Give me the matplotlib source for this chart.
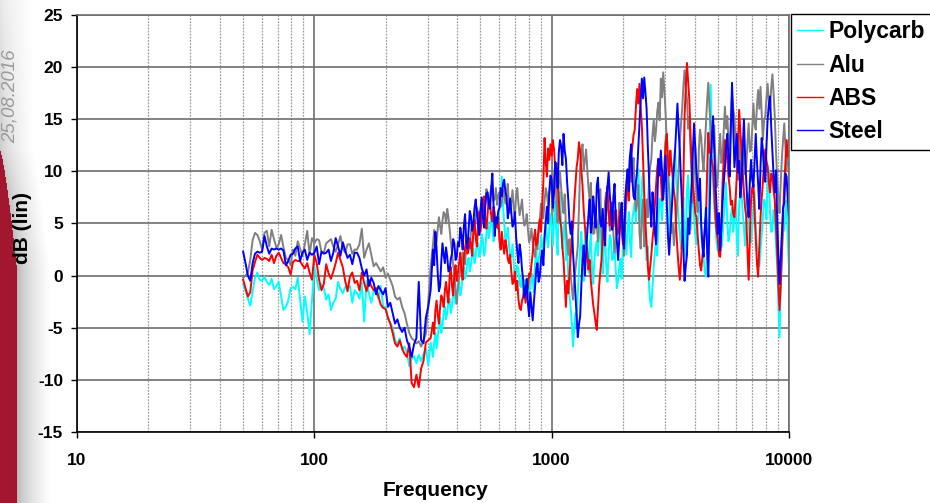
import numpy as np
import matplotlib
matplotlib.use("Agg")
import matplotlib.pyplot as plt
from matplotlib.ticker import LogLocator, NullFormatter

plt.rcParams['font.family'] = ['Liberation Sans', 'DejaVu Sans']

# ---------------- data ----------------
series_names = ["Polycarb", "Alu", "ABS", "Steel"]
series_colors = ["#00FFFF", "#808080", "#FF0000", "#0000FF"]
x_ticks = [10, 100, 1000, 10000]
x_tick_labels = ["10", "100", "1000", "10000"]
y_ticks = [-15, -10, -5, 0, 5, 10, 15, 20, 25]
# spectral lines: 50 Hz .. 309 Hz every 0.01 decade (80 lines),
# then 316 Hz .. 10 kHz every 0.005 decade (301 lines)
low_start, low_step, low_count = 1.70, 0.01, 80
high_start, high_step, high_count = 2.50, 0.005, 301

polycarb = [
    -0.8, -1.5, -2.2, -2.9, -1.5, -0.2, 0.3, -0.4, -0.5, -0.1,
    -0.6, -0.9, -0.3, -1.3, -1.0, -0.6, -2.0, -3.3, -3.0, -2.4,
    -1.2, -1.1, -1.3, -0.2, -2.3, -4.4, -2.0, -3.5, -5.6, -2.4,
    0.9, -0.3, -1.4, -0.8, -1.2, -2.3, -1.8, -3.3, -2.6, -2.2,
    -0.6, -1.3, -1.7, -1.1, -1.2, -1.0, -2.6, -1.4, -1.7, -2.2,
    -0.7, -4.4, -0.5, -1.7, -2.6, -1.4, -1.6, -2.2, -1.0, -3.0,
    -3.0, -4.2, -4.5, -5.0, -6.2, -6.6, -6.0, -7.1, -6.8, -7.4,
    -8.7, -8.0, -7.7, -8.4, -7.6, -8.2, -7.5, -7.0, -8.6, -6.4,
    # 316 Hz and up
    -7.8, -6.4, -5.5, -7.0, -6.0, -4.6, -4.0, -5.5, -4.8, -3.5,
    -3.0, -4.2, -3.6, -2.5, -2.2, -3.6, -2.9, -1.8, -1.5, -2.7,
    -2.0, -0.9, -0.6, -1.9, -1.3, 0.1, 0.9, -0.3, 0.2, 1.4,
    1.7, 0.4, 1.0, 2.2, 2.6, 1.2, 1.9, 3.3, 3.1, 1.8,
    2.2, 4.0, 3.4, 1.9, 2.4, 4.1, 5.3, 3.6, 4.4, 5.6,
    4.9, 3.3, 4.0, 5.2, 5.7, 4.4, 6.6, 7.5, 9.5, 6.8,
    5.0, 3.2, 3.7, 4.6, 3.0, 1.9, 1.8, 3.0, 1.2, -0.3,
    -0.1, 1.0, 0.6, -0.8, -1.1, 0.1, -1.4, -2.3, -0.4, -1.5,
    -2.0, -0.8, -1.3, 0.2, -0.4, -1.6, 1.2, 2.3, 0.5, 1.5,
    2.2, 3.8, 3.0, 1.9, 4.2, 5.4, 3.6, 2.7, 4.5, 5.9,
    # 1 kHz and up
    4.8, 2.9, 5.4, 7.1, 3.9, 2.0, 6.6, 8.0, 5.0, 2.6,
    4.1, 5.2, 1.5, 3.0, -0.1, -1.9, -3.0, -4.6, -6.8, -5.0,
    -3.6, -4.9, -1.7, 0.4, 2.8, 4.2, 1.2, -0.5, 3.4, 4.6,
    1.9, 0.3, 2.8, 4.0, 0.6, -0.8, 1.5, 2.7, 3.3, 1.9,
    4.1, 5.3, 1.8, 0.2, 2.8, 4.1, 0.9, -0.6, 2.2, 3.9,
    3.4, 1.5, 1.7, 3.0, 0.5, -1.2, -0.4, 0.8, 1.6, -0.3,
    2.8, 4.5, 3.9, 2.0, 4.7, 6.1, 3.2, 1.8, 5.4, 6.3,
    7.0, 5.1, 8.6, 10.2, 6.9, 5.0, 8.9, 9.8, 6.5, 3.9,
    1.5, 2.8, -1.0, -2.4, -3.0, -1.0, 0.9, 2.3, 3.5, 1.9,
    5.6, 7.4, 7.2, 5.3, 7.9, 10.0, 13.4, 9.1, 5.6, 3.8,
    6.3, 8.0, 9.5, 11.0, 12.1, 9.0, 7.0, 5.2, 4.0, 2.6,
    6.0, 7.5, 3.2, 1.8, 8.2, 9.6, 6.1, 4.4, 7.0, 8.5,
    5.6, 3.9, 3.0, 4.8, 6.4, 7.7, 4.0, 2.5, 1.8, 0.4,
    -0.1, 2.0, 4.5, 11.0, 18.3, 12.5, 8.8, 6.6, 5.0, 3.1,
    2.4, 4.0, 5.5, 2.7, 3.8, 5.5, 7.2, 8.9, 5.1, 3.3,
    4.0, 5.8, 6.5, 4.2, 5.6, 7.4, 3.6, 1.9, 6.8, 8.1,
    7.9, 6.0, 4.6, 2.9, 6.2, 7.9, 5.0, 3.4, 3.2, 4.6,
    6.3, 8.0, 4.5, 2.8, 2.6, 0.9, 2.4, 4.0, 5.7, 7.3,
    7.0, 5.4, 8.8, 10.1, 6.0, 4.2, 4.3, 6.3, 5.6, 3.0,
    1.0, -2.5, -5.9, -1.5, 2.4, 4.1, 4.5, 6.0, 7.2, 3.4,
    0.8,
]

alu = [
    -0.2, 0.0, 0.3, 1.5, 3.4, 4.1, 3.9, 3.3, 2.5, 4.1,
    4.3, 2.8, 4.4, 3.5, 2.7, 3.0, 3.9, 2.7, 1.7, 1.5,
    1.0, 2.5, 1.9, 3.3, 2.6, 1.9, 3.0, 4.3, 2.0, 3.6,
    3.1, 3.5, 3.4, 2.3, 2.2, 3.1, 3.3, 3.5, 2.8, 2.3,
    3.0, 3.8, 2.6, 2.2, 3.0, 3.0, 2.1, 2.5, 2.5, 3.0,
    4.5, 1.7, 2.5, 3.1, 2.0, 0.9, 1.2, 0.8, 0.4, 0.8,
    -0.2, 0.2, -0.4, -1.0, -2.0, -2.3, -2.1, -3.0, -3.6, -4.6,
    -5.5, -6.0, -6.2, -6.5, -6.3, -6.8, -6.2, -5.6, -2.5, 0.8,
    # 316 Hz and up
    3.0, 4.4, 3.8, 3.2, 4.5, 5.6, 4.7, 4.0, 5.3, 6.1,
    5.9, 5.0, 6.4, 5.6, 4.5, 3.3, 2.2, 1.0, 0.3, -1.4,
    -2.7, -1.2, -0.2, 0.6, 1.0, 2.2, 1.9, 1.1, 2.8, 3.6,
    3.4, 2.6, 4.2, 5.1, 4.8, 4.0, 5.6, 6.5, 6.1, 5.0,
    5.6, 6.6, 7.3, 6.1, 6.8, 8.3, 7.8, 6.6, 7.4, 8.6,
    8.3, 7.2, 7.3, 8.4, 6.8, 7.7, 8.0, 6.6, 7.0, 8.2,
    7.8, 6.9, 8.0, 8.8, 6.9, 6.0, 7.1, 8.2, 6.5, 5.6,
    7.7, 8.4, 6.9, 5.8, 6.5, 7.3, 5.7, 4.8, 5.0, 5.9,
    4.4, 3.2, 3.6, 4.5, 3.2, 2.4, 1.8, 3.0, 2.5, 4.0,
    5.6, 6.9, 6.6, 5.5, 7.2, 8.4, 7.8, 6.7, 8.0, 9.1,
    # 1 kHz and up
    8.3, 6.2, 9.5, 10.8, 7.0, 5.1, 8.8, 10.0, 8.5, 6.9,
    6.0, 7.8, 4.7, 3.1, 2.0, 3.5, 0.0, -1.2, -2.3, -0.6,
    0.5, 1.6, 2.8, 6.4, 10.5, 11.8, 12.6, 10.1, 11.0, 12.1,
    10.2, 8.4, 7.3, 8.9, 5.8, 4.0, 4.1, 6.2, 5.0, 3.3,
    6.7, 8.3, 4.2, 2.9, 5.4, 7.1, 8.0, 6.5, 6.1, 4.3,
    5.4, 7.0, 4.0, 2.2, 3.4, 5.1, 5.2, 7.0, 6.0, 4.4,
    3.4, 1.9, 5.0, 7.2, 8.6, 10.1, 11.5, 9.0, 9.9, 11.3,
    8.0, 6.2, 7.0, 8.7, 4.1, 2.6, 5.5, 7.3, 2.8, 4.9,
    7.3, 5.6, 9.0, 10.4, 11.2, 13.5, 15.0, 12.9, 14.0, 15.8,
    16.6, 14.9, 18.9, 17.1, 19.5, 17.7, 15.6, 12.8, 10.5, 8.1,
    6.3, 4.1, 5.0, 2.9, 4.4, 5.9, 7.3, 10.2, 12.8, 14.6,
    16.0, 18.2, 19.7, 18.0, 17.0, 14.1, 15.2, 12.0, 9.4, 7.0,
    10.4, 12.3, 8.0, 6.1, 12.0, 14.0, 13.3, 11.2, 10.0, 12.4,
    14.5, 16.8, 18.5, 16.0, 14.3, 11.8, 12.7, 14.4, 11.0, 8.5,
    9.5, 11.9, 13.6, 10.8, 11.5, 14.0, 16.2, 14.1, 15.3, 13.0,
    12.0, 14.9, 17.5, 16.0, 15.3, 12.9, 11.0, 9.2, 13.4, 11.1,
    9.0, 10.8, 12.1, 9.7, 10.5, 12.8, 14.6, 11.9, 12.0, 14.1,
    16.5, 14.5, 14.0, 16.3, 17.8, 16.0, 18.1, 15.6, 13.0, 14.9,
    15.3, 17.0, 18.4, 16.6, 16.0, 18.0, 19.3, 17.5, 15.3, 12.0,
    9.4, 7.5, 6.0, 8.8, 11.3, 13.0, 14.6, 12.3, 10.0, 12.0,
    13.4,
]

abs_ = [
    -0.4, -1.2, -2.0, -1.6, 0.5, 1.3, 2.0, 1.7, 1.5, 1.7,
    1.6, 1.4, 2.0, 1.2, 1.9, 2.2, 1.7, 1.2, 1.1, 0.8,
    0.1, 1.3, 1.5, 1.4, 1.4, 1.0, 0.7, 1.2, 0.3, -0.4,
    2.0, 1.2, -0.4, -1.4, -0.8, 1.1, 0.2, -0.3, 0.4, 1.2,
    2.2, 1.5, 0.8, -0.5, -1.5, -0.1, 0.3, -0.7, -0.5, -1.4,
    0.3, -0.7, -1.5, -0.4, -1.0, -1.4, -1.2, -2.0, -2.8, -3.1,
    -3.2, -4.0, -4.6, -5.5, -6.5, -6.8, -6.2, -7.0, -7.5, -7.8,
    -6.5, -10.3, -10.7, -9.5, -10.7, -8.9, -8.2, -6.4, -6.2, -6.0,
    # 316 Hz and up
    -4.5, -5.6, -3.3, -2.4, -3.8, -4.6, -3.0, -1.9, -2.2, -3.0,
    -1.4, -0.6, -1.8, -2.6, -0.1, 0.8, -1.0, -1.9, 0.2, 1.0,
    -0.5, 0.3, 1.2, 2.2, 0.4, -0.4, 1.8, 2.7, 3.4, 2.1,
    2.5, 3.6, 3.0, 1.9, 4.4, 5.3, 3.6, 2.8, 5.0, 6.1,
    4.2, 5.4, 6.6, 7.6, 5.4, 4.5, 6.0, 7.4, 7.0, 5.8,
    5.2, 6.6, 6.0, 4.9, 4.6, 5.6, 3.4, 2.5, 4.2, 3.0,
    2.1, 3.4, 2.8, 1.6, 1.2, 2.0, 0.4, -0.8, -0.6, 0.4,
    -1.4, -0.5, -2.3, -3.1, -3.3, -2.4, -2.0, -1.0, -2.6, -1.5,
    -1.2, 0.2, -0.1, 1.1, 2.1, 3.5, 4.4, 2.9, 3.2, 4.6,
    5.4, 4.2, 6.6, 9.0, 13.2, 10.9, 9.5, 12.2, 11.1, 12.6,
    # 1 kHz and up
    11.5, 13.0, 12.1, 10.2, 10.8, 8.9, 7.3, 5.4, 4.7, 2.8,
    1.5, -0.8, -3.0, -0.5, -1.7, 0.2, 1.8, 3.6, 4.7, 6.9,
    8.6, 10.4, 11.2, 12.8, 12.0, 10.1, 8.6, 6.3, 4.7, 3.2,
    2.5, 0.6, 1.5, -0.5, -1.7, -2.8, -3.6, -4.5, -5.2, -3.2,
    -1.0, 0.4, 1.5, 3.6, 5.4, 4.0, 7.3, 8.6, 6.0, 4.8,
    7.0, 5.5, 4.7, 6.0, 6.3, 3.9, 4.1, 5.6, 6.3, 4.6,
    3.0, 4.9, 6.3, 8.0, 8.6, 7.2, 10.2, 11.6, 12.4, 13.5,
    14.0, 16.2, 17.9, 16.5, 18.4, 16.0, 14.4, 11.0, 7.9, 5.0,
    3.1, 1.0, -0.4, 0.8, 2.0, 3.5, 4.7, 6.9, 8.6, 10.4,
    11.2, 9.8, 9.5, 7.2, 8.0, 10.3, 12.7, 13.6, 11.2, 9.6,
    12.0, 10.6, 9.5, 8.1, 7.2, 4.5, 2.4, 0.8, -0.4, 1.3,
    3.7, 9.0, 15.3, 18.0, 20.4, 18.6, 16.9, 13.5, 10.4, 8.7,
    7.5, 6.0, 5.6, 3.9, 2.4, 1.0, 0.5, 1.8, 3.0, 4.4,
    5.6, 9.5, 13.7, 11.8, 12.0, 11.0, 10.4, 7.9, 5.6, 4.2,
    3.5, 2.0, 1.8, 5.0, 8.8, 11.2, 13.0, 12.2, 11.1, 9.5,
    8.5, 6.8, 7.2, 5.9, 5.6, 7.4, 9.5, 12.6, 15.9, 13.8,
    12.1, 10.0, 8.0, 6.5, 5.6, 2.4, -0.4, 3.5, 7.2, 8.4,
    8.8, 6.1, 3.5, 1.2, -0.1, 2.8, 5.6, 7.4, 9.0, 10.8,
    12.1, 11.0, 10.5, 9.0, 8.0, 9.8, 9.5, 8.2, 7.2, 4.8,
    2.4, -0.8, -3.3, -1.0, 2.0, 5.6, 8.8, 11.0, 13.0, 11.4,
    12.1,
]

steel = [
    2.3, 1.2, 0.0, -0.5, 1.2, 2.1, 2.3, 2.2, 2.3, 3.8,
    2.8, 2.1, 2.6, 2.5, 2.6, 2.5, 2.6, 2.4, 1.0, 1.4,
    2.0, 2.1, 2.6, 2.8, 1.4, 2.2, 2.5, 1.5, 2.2, 2.0,
    2.2, 2.8, 1.1, 2.3, 2.1, 2.2, 2.5, 1.4, 2.2, 3.6,
    2.8, 1.9, 3.2, 2.4, 1.7, 2.0, 1.1, 2.2, 2.2, 1.7,
    0.7, 0.0, 0.6, -1.0, -0.2, -0.7, -1.8, -1.0, -1.4, -1.8,
    -1.2, -3.0, -2.6, -3.6, -4.6, -4.2, -5.0, -5.4, -5.0, -6.2,
    -6.8, -7.8, -6.6, -6.0, -0.6, -6.2, -6.5, -4.0, -3.0, -1.4,
    # 316 Hz and up
    2.5, 1.0, 4.2, 2.6, 0.2, -1.5, -1.0, 1.4, 3.1, 2.0,
    1.2, 2.7, 1.8, 0.4, 0.5, 1.6, 2.1, 3.5, 3.1, 1.5,
    1.8, 3.2, 2.8, 4.6, 3.8, 2.5, 4.7, 5.9, 3.4, 2.6,
    4.4, 6.2, 5.7, 4.3, 5.0, 6.5, 7.3, 6.0, 5.0, 3.9,
    6.3, 7.5, 5.7, 4.6, 6.6, 7.9, 8.0, 6.9, 6.4, 8.2,
    9.8, 6.7, 3.8, 5.6, 5.0, 6.2, 6.5, 8.4, 7.6, 8.8,
    9.2, 8.0, 7.6, 5.5, 6.3, 7.4, 6.0, 4.7, 5.0, 6.1,
    3.8, 2.3, 1.2, 3.0, 2.2, 0.6, -0.4, -2.1, -1.5, -0.3,
    -2.7, -3.9, -1.6, -3.0, -4.3, -2.6, -1.1, 0.6, 1.2, -0.6,
    -0.1, 1.6, 2.4, 1.0, 3.6, 5.2, 6.6, 5.0, 8.0, 9.6,
    # 1 kHz and up
    9.2, 6.5, 8.0, 10.9, 10.2, 8.4, 11.8, 13.0, 12.4, 10.6,
    13.6, 12.0, 11.2, 9.0, 7.3, 5.1, 4.0, 5.2, 2.2, 0.3,
    -1.7, -3.8, -5.9, -4.7, -3.9, -1.0, 1.5, 2.9, 0.0, 2.2,
    4.1, 5.8, 7.3, 4.1, 5.0, 7.6, 6.3, 4.6, 8.6, 9.4,
    6.7, 5.0, 4.7, 6.4, 4.0, 2.9, 7.0, 8.5, 9.9, 7.7,
    6.3, 4.4, 7.5, 8.8, 5.4, 3.2, 1.5, 3.5, 5.6, 7.0,
    4.0, 2.6, 7.5, 9.0, 10.2, 8.1, 11.5, 12.6, 9.2, 7.6,
    7.3, 9.0, 10.0, 12.3, 14.4, 16.8, 18.9, 17.0, 19.0, 17.6,
    16.0, 12.5, 9.5, 6.6, 4.7, 8.0, 6.3, 4.1, 3.0, 7.2,
    11.2, 9.6, 12.0, 10.0, 7.3, 9.4, 11.5, 7.0, 3.8, 2.0,
    4.0, 6.1, 8.0, 10.3, 12.0, 14.2, 16.5, 14.0, 12.0, 9.1,
    6.2, 2.5, -0.5, 0.9, 2.0, 5.5, 4.0, 6.6, 8.8, 11.9,
    14.6, 12.2, 10.0, 8.4, 7.2, 9.3, 5.0, 3.0, 1.8, 4.4,
    6.5, 2.5, -0.1, 5.6, 11.1, 13.2, 15.3, 12.1, 9.0, 6.4,
    4.0, 6.0, 2.4, 4.5, 7.0, 8.9, 10.4, 12.4, 13.6, 11.2,
    9.5, 14.0, 18.5, 14.6, 10.4, 12.0, 13.6, 9.9, 11.0, 7.5,
    8.8, 12.2, 15.0, 11.5, 9.0, 6.8, 5.6, 8.9, 11.1, 9.2,
    8.5, 11.0, 13.6, 10.9, 8.8, 6.4, 10.5, 13.2, 12.0, 9.8,
    9.0, 12.4, 15.0, 16.4, 17.2, 14.3, 12.0, 9.6, 8.0, 10.1,
    5.6, 2.0, -0.8, 1.7, 4.0, 6.5, 7.0, 9.8, 9.5, 7.2,
    5.6,
]

series_values = [polycarb, alu, abs_, steel]
freq = np.concatenate([
    10 ** (low_start + low_step * np.arange(low_count)),
    10 ** (high_start + high_step * np.arange(high_count)),
])

# ---------------- figure ----------------
W_PX, H_PX = 930, 503
fig = plt.figure(figsize=(W_PX / 100, H_PX / 100), dpi=100)

# left decorative strip (red band + gray shading)
sw = 60
deco = fig.add_axes([0, 0, sw / W_PX, 1])
xs = np.arange(sw)[None, :] + 0.5
ys = np.arange(H_PX)[:, None] + 0.5
edge = 17.0 * np.clip((ys - 150.0) / 120.0, 0, 1) ** 0.75
shade = np.clip((xs - edge) / 33.0, 0, 1)
base = 0.70 + 0.20 * np.clip((260.0 - ys) / 260.0, 0, 1)
g = base + (1 - base) * shade ** 0.6
img = np.dstack([g, g, g]) * np.ones((H_PX, sw, 1))
red_mask = (xs < edge) & (ys > 150)
red = np.array([0.64, 0.09, 0.19])
img = np.where(red_mask[..., None], red[None, None, :], img)
deco.imshow(img, extent=[0, sw, H_PX, 0], aspect='auto', interpolation='bilinear')
deco.set_xlim(0, sw)
deco.set_ylim(H_PX, 0)
deco.axis('off')

fig.text(10 / W_PX, 1 - 96 / H_PX, "25,08.2016", rotation=90, color="#9a9a9a",
         style="italic", fontsize=13.5, ha="center", va="center")

# main axes
L, R, T, B = 77, 789, 15, 432
ax = fig.add_axes([L / W_PX, 1 - B / H_PX, (R - L) / W_PX, (B - T) / H_PX])
ax.set_xscale('log')
for name, vals, col in zip(series_names, series_values, series_colors):
    ax.plot(freq, vals, color=col, lw=1.4, label=name)
ax.set_xlim(10, 10000)
ax.set_ylim(-15, 25)
ax.set_yticks(y_ticks)
ax.set_yticklabels([str(v) for v in y_ticks])
ax.set_xticks(x_ticks)
ax.set_xticklabels(x_tick_labels)
ax.xaxis.set_minor_locator(LogLocator(base=10, subs=range(2, 10)))
ax.xaxis.set_minor_formatter(NullFormatter())
ax.tick_params(axis='x', which='minor', length=0)
ax.tick_params(axis='both', which='major', length=4, width=1, labelsize=12.5, color='black')
ax.tick_params(axis='y', which='major', pad=6)
ax.tick_params(axis='x', which='major', pad=11)
for lab in ax.get_xticklabels() + ax.get_yticklabels():
    lab.set_fontweight('bold')
ax.grid(True, which='major', axis='both', color='#6e6e6e', lw=1.2)
ax.grid(True, which='minor', axis='x', color='#a0a0a0', lw=0.9, ls=(0, (1.5, 1)))
ax.set_axisbelow(True)
for s in ['left', 'bottom']:
    ax.spines[s].set_color('black')
    ax.spines[s].set_linewidth(1.2)
for s in ['top', 'right']:
    ax.spines[s].set_color('#6e6e6e')
    ax.spines[s].set_linewidth(1.2)

fig.text(22 / W_PX, 1 - 228 / H_PX, "dB (lin)", rotation=90, fontsize=15,
         fontweight='bold', ha='center', va='center')
fig.text(435 / W_PX, 1 - 491 / H_PX, "Frequency", fontsize=15,
         fontweight='bold', ha='center', va='center')

handles, labels = ax.get_legend_handles_labels()
leg = fig.legend(handles, labels, loc='upper left', mode='expand',
                 bbox_to_anchor=(791 / W_PX, 0, 160 / W_PX, 1 - 14 / H_PX),
                 frameon=True, fancybox=False, edgecolor='black', framealpha=1,
                 prop={'weight': 'bold', 'size': 16.5}, handlelength=1.1,
                 handletextpad=0.26, labelspacing=0.45, borderpad=0.28,
                 borderaxespad=0)
leg.get_frame().set_linewidth(1.0)
for h in leg.legend_handles:
    h.set_linewidth(1.0)

fig.savefig("out.png", dpi=100)
